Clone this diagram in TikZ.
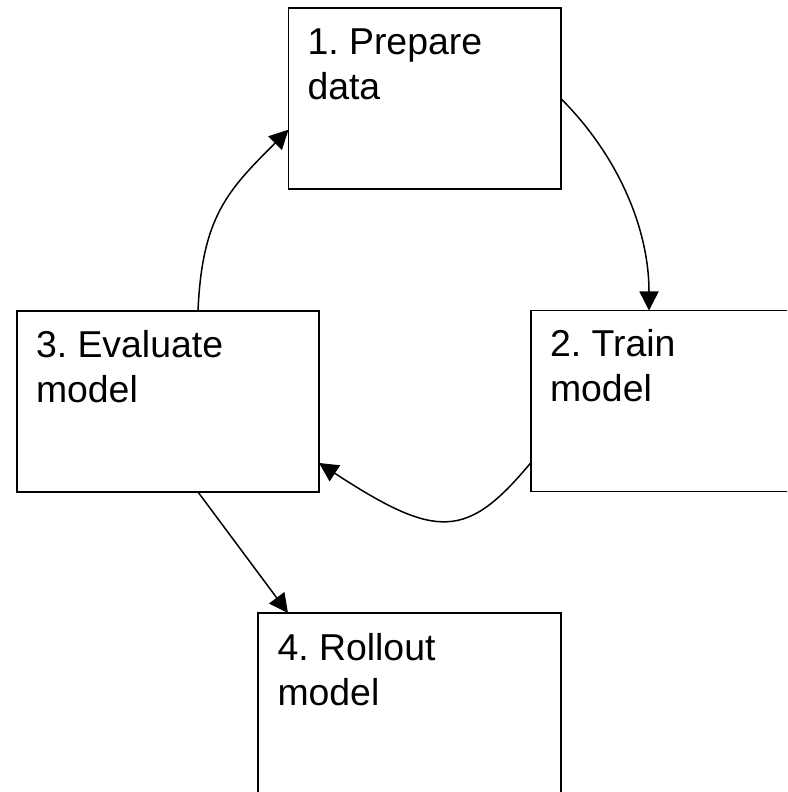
\documentclass[tikz,border=0pt]{standalone}
\usepackage{fontspec}
\setmainfont{Liberation Sans}
\usetikzlibrary{arrows.meta,calc}
\frenchspacing
\begin{document}
\begin{tikzpicture}[x=1pt,y=1pt,
  box/.style={draw=black,line width=1.9pt,minimum width=#1,minimum height=181pt,inner sep=0pt,outer sep=0pt,anchor=north west,fill=white},
  lbl/.style={anchor=base west,inner sep=0pt,outer sep=0pt,font=\fontsize{37.4}{44}\selectfont},
  conn/.style={line width=1.5pt,-{Triangle[length=19pt,width=19pt]}}]
\useasboundingbox (0,0) rectangle (787,792);
\clip (0,0) rectangle (787,792);
\fill[white] (0,0) rectangle (787,792);
% boxes
\node[box=272.5pt] (b1) at (288.5,784) {};
\node[box=302pt] (b2) at (531,481.5) {};
\node[box=302pt] (b3) at (17,481) {};
\node[box=303pt] (b4) at (258,179) {};
% labels
\node[lbl] (t1a) at ($(b1.north west)+(19,-47)$) {1. Prepare};
\node[lbl] (t1b) at ($(t1a.base west)+(0,-44.5)$) {data};
\node[lbl] (t2a) at ($(b2.north west)+(19,-46.5)$) {2. Train};
\node[lbl] (t2b) at ($(t2a.base west)+(0,-44.5)$) {model};
\node[lbl] (t3a) at ($(b3.north west)+(19,-47)$) {3. Evaluate};
\node[lbl] (t3b) at ($(t3a.base west)+(0,-44.5)$) {model};
\node[lbl] (t4a) at ($(b4.north west)+(19.5,-48)$) {4. Rollout};
\node[lbl] (t4b) at ($(t4a.base west)+(0,-44.5)$) {model};
% connectors
\draw[conn] ([yshift=90.3pt]b1.south east) .. controls +(57,-57) and +(0,82) .. ([xshift=118pt]b2.north west);
\draw[conn] ([yshift=29pt]b2.south west) .. controls +(-64,-77) and +(118,-77) .. ([yshift=29pt]b3.south east);
\draw[conn] ([xshift=181pt]b3.north west) .. controls +(4,95) and +(-60,-60) .. ([yshift=59.3pt]b1.south west);
\draw[conn] ([xshift=181pt]b3.south west) -- ([xshift=30pt]b4.north west);
\end{tikzpicture}
\end{document}
